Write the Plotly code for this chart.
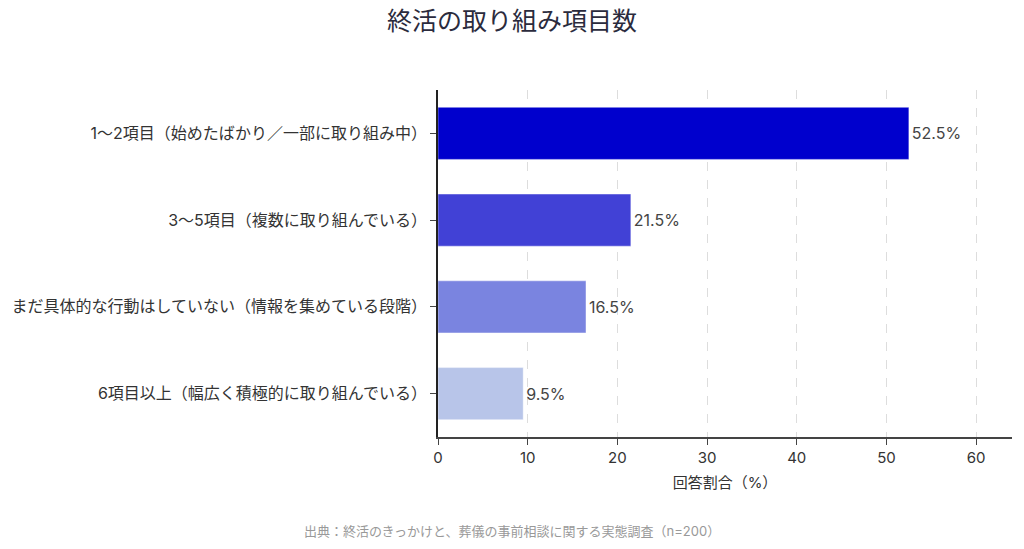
import plotly.graph_objects as go

categories = [
    "1〜2項目（始めたばかり／一部に取り組み中）",
    "3〜5項目（複数に取り組んでいる）",
    "まだ具体的な行動はしていない（情報を集めている段階）",
    "6項目以上（幅広く積極的に取り組んでいる）",
]
values = [52.5, 21.5, 16.5, 9.5]
colors = ["#0000CD", "#4141D6", "#7A84E0", "#B8C5E9"]
labels = [f"{v}%" for v in values]

FONT = "Inter, Noto Sans CJK JP"

fig = go.Figure(go.Bar(
    x=values, y=categories, orientation="h",
    marker=dict(color=colors, line=dict(color="rgba(255,255,255,0.4)", width=1)),
    width=0.6,
    text=labels, textposition="outside",
    textfont=dict(size=16, color="#444444", family=FONT),
    cliponaxis=False,
))

fig.update_layout(
    width=1024, height=549,
    margin=dict(l=438, r=12, t=90, b=112),
    paper_bgcolor="white", plot_bgcolor="white",
    font=dict(family=FONT, color="#333333"),
    title=dict(text="終活の取り組み項目数", xref="container", x=0.5, y=0.962, yanchor="middle",
               font=dict(size=25, color="#2b2b3d", family=FONT)),
    showlegend=False,
)

fig.update_xaxes(
    range=[0, 64], dtick=10, tick0=0,
    showgrid=True, gridcolor="#dddddd", griddash="dash", gridwidth=1,
    showline=True, linecolor="#444444", linewidth=1.5,
    ticks="outside", ticklen=6, tickcolor="#444444",
    tickfont=dict(size=15, color="#333333"),
    zeroline=False,
    title=dict(text="回答割合（%）", font=dict(size=15, color="#333333"), standoff=12),
)
fig.update_yaxes(
    autorange="reversed",
    showline=True, linecolor="#222222", linewidth=1.5,
    ticks="outside", ticklen=6, tickcolor="#444444",
    tickfont=dict(size=16, color="#333333"),
    showgrid=False,
)

fig.add_annotation(
    text="出典：終活のきっかけと、葬儀の事前相談に関する実態調査（n=200）",
    xref="paper", yref="paper", x=(512 - 438) / (1012 - 438), y=-0.27,
    xanchor="center", yanchor="middle", showarrow=False,
    font=dict(size=13, color="#999999", family=FONT),
)

fig.write_html("out.html")
